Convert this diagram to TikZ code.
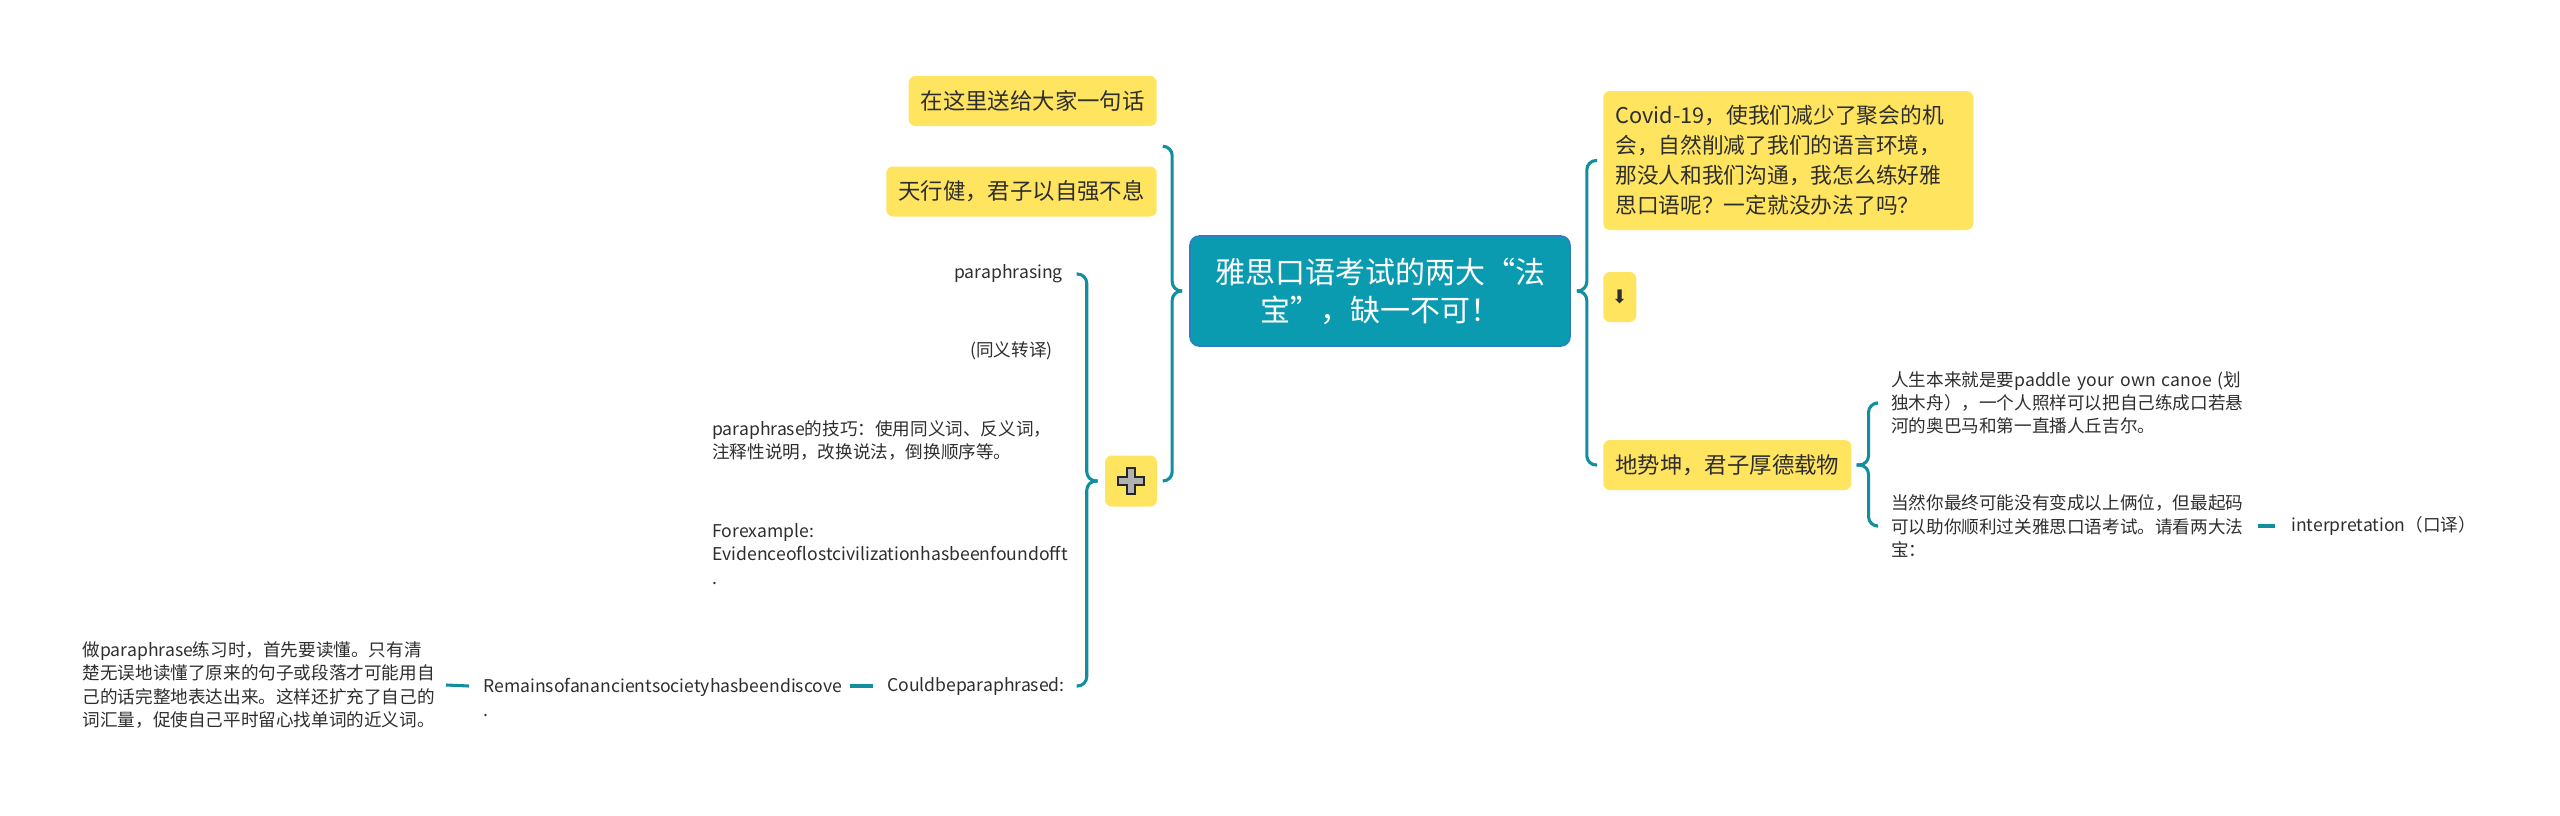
\documentclass[tikz,border=0pt]{standalone}
\usepackage{fontspec}
\setmainfont{Noto Sans CJK SC}
\newfontfamily\arrowfont{DejaVu Sans}
\usetikzlibrary{positioning,calc}
\definecolor{mapTeal}{HTML}{128EA0}
\definecolor{mapRoot}{HTML}{0B9BB0}
\definecolor{mapRootEdge}{HTML}{2A80C2}
\definecolor{mapYellow}{HTML}{FFE45F}
\definecolor{mapText}{HTML}{2E2E2E}

\begin{document}
\begin{tikzpicture}[x=0.75pt, y=-0.75pt,
    topic/.style={fill=mapYellow, text=mapText, rounded corners=5pt, inner xsep=9pt, minimum height=37.5pt, font=\fontsize{16.8pt}{22.5pt}\selectfont},
    leaf/.style={text=mapText, inner sep=0pt, align=left, font=\fontsize{13.2pt}{17.5pt}\selectfont},
    branch/.style={mapTeal, line width=2.3pt, rounded corners=7pt},
    link/.style={mapTeal, line width=2.3pt}]
  \useasboundingbox (0,0) rectangle (2560,815);

  \node[fill=mapRoot, draw=mapRootEdge, line width=1.2pt, rounded corners=7pt, text=white, minimum width=285pt, minimum height=82.5pt, align=center, font=\fontsize{22.5pt}{28.5pt}\selectfont] (root) at (1380,291) {雅思口语考试的两大“法\\宝”，缺一不可！};

  \node[topic, anchor=east] (zai) at (1157,101) {在这里送给大家一句话};
  \node[topic, anchor=east] (tian) at (1157,191.5) {天行健，君子以自强不息};
  \node[topic, minimum width=39pt, minimum height=38.25pt] (plus) at (1131,481) {};
  \draw[fill=black!30, draw=black!85, line width=1.1pt] ($(plus)+(-4,-13)$) -- ++(8,0) -- ++(0,9) -- ++(9,0) -- ++(0,8) -- ++(-9,0) -- ++(0,9) -- ++(-8,0) -- ++(0,-9) -- ++(-9,0) -- ++(0,-8) -- ++(9,0) -- cycle;

  \node[topic, anchor=west, align=left, text width=259.5pt, minimum height=104.25pt, font=\fontsize{16.3pt}{22.5pt}\selectfont] (covid) at (1603,160.5) {Covid-19，使我们减少了聚会的机\\会，自然削减了我们的语言环境，\\那没人和我们沟通，我怎么练好雅\\思口语呢？一定就没办法了吗？};
  \node[topic, anchor=west, inner xsep=0pt, minimum width=24.75pt] (down) at (1603,297) {\arrowfont\fontsize{14pt}{14pt}\selectfont ⬇};
  \node[topic, anchor=west] (dishi) at (1603,465) {地势坤，君子厚德载物};

  \node[leaf, anchor=east] (para) at (1063,274) {paraphrasing};
  \node[leaf, anchor=east] (tong) at (1053,351) {(同义转译)};
  \node[leaf, anchor=west] (jiqiao) at (712,440.5) {paraphrase的技巧：使用同义词、反义词，\\注释性说明，改换说法，倒换顺序等。};
  \node[leaf, anchor=west] (forex) at (712,554) {Forexample:\\Evidenceoflostcivilizationhasbeenfoundofft\\.};
  \node[leaf, anchor=east] (could) at (1065,686) {Couldbeparaphrased:};
  \node[leaf, anchor=west, text width=268.5pt] (remains) at (483,697.5) {Remainsofanancientsocietyhasbeendiscove\\.};
  \node[leaf, anchor=east, text width=266.25pt] (zuo) at (438,685) {做paraphrase练习时，首先要读懂。只有清\\楚无误地读懂了原来的句子或段落才可能用自\\己的话完整地表达出来。这样还扩充了自己的\\词汇量，促使自己平时留心找单词的近义词。};

  \node[leaf, anchor=west, text width=262.5pt] (rensheng) at (1891,403) {人生本来就是要paddle your own canoe (划\\独木舟），一个人照样可以把自己练成口若悬\\河的奥巴马和第一直播人丘吉尔。};
  \node[leaf, anchor=west, text width=262.5pt] (dangran) at (1891,526) {当然你最终可能没有变成以上俩位，但最起码\\可以助你顺利过关雅思口语考试。请看两大法\\宝：};
  \node[leaf, anchor=west] (interp) at (2291,526) {interpretation（口译）};

  \draw[branch] ($(zai.east)!.5!(tian.east)+(6,0)$) -| ($(root.west)+(-17,0)$) -- ($(root.west)+(-7,0)$);
  \draw[branch] ($(plus.east)+(6,0)$) -| ($(root.west)+(-17,0)$) -- ($(root.west)+(-7,0)$);
  \draw[branch] ($(covid.west)+(-6,0)$) -| ($(root.east)+(16,0)$) -- ($(root.east)+(6,0)$);
  \draw[branch] ($(dishi.west)+(-6,0)$) -| ($(root.east)+(16,0)$) -- ($(root.east)+(6,0)$);
  \draw[branch] ($(plus.west |- para)+(-28,0)$) -| ($(plus.west)+(-18,0)$) -- ($(plus.west)+(-7,0)$);
  \draw[branch] ($(plus.west |- could)+(-28,0)$) -| ($(plus.west)+(-18,0)$) -- ($(plus.west)+(-7,0)$);
  \draw[branch] ($(dishi.east |- rensheng)+(25,0)$) -| ($(dishi.east)+(17,0)$) -- ($(dishi.east)+(5,0)$);
  \draw[branch] ($(dishi.east |- dangran)+(25,0)$) -| ($(dishi.east)+(17,0)$) -- ($(dishi.east)+(5,0)$);

  \draw[link] ($(zuo.east)+(8,0)$) -- ($(remains.west |- could)+(-14,0)$);
  \draw[link] ($(remains.east |- could)+(8,0)$) -- ($(could.west)+(-14,0)$);
  \draw[link] ($(dangran.east)+(16,0)$) -- ($(interp.west)+(-16,0)$);
\end{tikzpicture}
\end{document}
